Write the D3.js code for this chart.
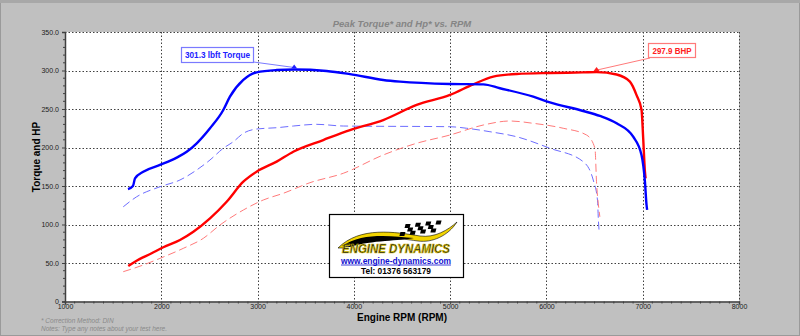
<!DOCTYPE html>
<html>
<head>
<meta charset="utf-8">
<script src="https://cdn.jsdelivr.net/npm/d3@7"></script>
<style>
  html, body { margin: 0; padding: 0; background: #c0c0c0; }
  svg { display: block; font-family: "Liberation Sans", Arial, sans-serif; }
</style>
</head>
<body>
<svg id="chart" width="800" height="336"></svg>
<script>
// Dyno run: engine speed (RPM) against torque (lbft) and power (BHP)
const torqueRpm = [1654, 1706, 1727, 1813, 1986, 2160, 2264, 2368, 2506, 2644, 2713, 2852, 2990, 3198, 3380, 3717, 3960, 4305, 4479, 4998, 5344, 5517, 5863, 6036, 6382, 6555, 6729, 6901, 6988, 7023, 7040, 7046];
const torqueVal = [146, 150, 160, 168.6, 177.3, 186.8, 194.5, 205.5, 225, 248.7, 266, 287.7, 297.6, 300.6, 301.3, 299.4, 295.3, 287.7, 285.5, 282.5, 282, 277, 266, 258.7, 247.4, 241, 231.4, 214, 190, 155.6, 125, 119];

const powerRpm = [1657, 1727, 1900, 2021, 2194, 2333, 2506, 2679, 2852, 2990, 3198, 3371, 3682, 3960, 4305, 4652, 4998, 5240, 5448, 5690, 6036, 6382, 6521, 6729, 6867, 6936, 6988, 7005, 7023, 7030];
const powerVal = [46, 51.7, 62.6, 70.4, 79.9, 90.6, 108, 129.6, 155.6, 168.6, 181.6, 194.5, 209.7, 222.7, 235.7, 255.2, 268.2, 282, 292, 295.5, 296.8, 297.5, 297.9, 294.8, 285.5, 268, 248.7, 212, 168.6, 160];

// Second (baseline) run, drawn dashed
const torque2Rpm = [1605, 1744, 1986, 2194, 2368, 2506, 2644, 2748, 2852, 2990, 3198, 3371, 3613, 3890, 4998, 5171, 5413, 5690, 6036, 6382, 6486, 6530, 6540, 6548];
const torque2Val = [123, 136, 149, 157.8, 170.8, 183.8, 199, 207.5, 218.4, 224, 225.7, 227.9, 230.1, 227.9, 227, 225, 220.5, 214, 199, 181.6, 157.8, 131.8, 105, 90];

const power2Rpm = [1605, 1813, 1986, 2228, 2436, 2610, 2852, 3059, 3267, 3544, 3890, 4305, 4652, 4998, 5344, 5621, 5863, 6174, 6417, 6504, 6521, 6545, 6555];
const power2Val = [38.7, 47.4, 56, 69, 82, 99.4, 118.8, 131.8, 140.5, 154.3, 166.5, 190.3, 205.5, 216.2, 229.2, 234.4, 231.4, 225, 216.2, 199, 153.5, 120, 110];

const xTicks = [1000, 2000, 3000, 4000, 5000, 6000, 7000, 8000];
const yTicks = [0, 50, 100, 150, 200, 250, 300, 350];

const peakTorque = { rpm: 3380, value: 301.3, label: "301.3 lbft Torque" };
const peakPower = { rpm: 6521, value: 297.9, label: "297.9 BHP" };

const svg = d3.select("#chart");
const W = 800, H = 336;

const x = d3.scaleLinear().domain([1000, 8000]).range([65, 739]);
const y = d3.scaleLinear().domain([0, 350]).range([301.5, 32]);

// Window background
svg.append("rect").attr("x", 0.5).attr("y", 0.5).attr("width", W - 1).attr("height", H - 1)
  .attr("fill", "#c0c0c0").attr("stroke", "#9a9a9a");
svg.append("rect").attr("x", 0).attr("y", 0).attr("width", W).attr("height", 3).attr("fill", "#a8a8a8");

// Plot area
svg.append("rect").attr("x", x(1000)).attr("y", y(350))
  .attr("width", x(8000) - x(1000)).attr("height", y(0) - y(350)).attr("fill", "#ffffff");

// Dotted grid
const grid = svg.append("g").attr("stroke", "#404040").attr("stroke-width", 1).attr("stroke-dasharray", "1.5,2");
grid.selectAll("line.v").data(xTicks.slice(1)).join("line")
  .attr("x1", d => Math.round(x(d)) + 0.5).attr("x2", d => Math.round(x(d)) + 0.5)
  .attr("y1", y(350)).attr("y2", y(0));
grid.selectAll("line.h").data(yTicks.slice(1)).join("line")
  .attr("x1", x(1000)).attr("x2", x(8000))
  .attr("y1", d => Math.round(y(d)) + 0.5).attr("y2", d => Math.round(y(d)) + 0.5);

// Axes
const xAxis = d3.axisBottom(x).tickValues(xTicks).tickFormat(d3.format("d")).tickSize(3);
const gx = svg.append("g").attr("transform", `translate(0,${y(0)})`).call(xAxis);
gx.select(".domain").attr("stroke", "#404040").attr("stroke-width", 1.5);
gx.selectAll(".tick line").attr("stroke", "#404040");
gx.selectAll(".tick text").attr("font-size", 7).attr("fill", "#202020").attr("dy", "0.2em")
  .attr("font-family", "'Liberation Sans', Arial, sans-serif");

const xMinor = d3.range(1100, 8000, 100).filter(v => v % 1000 !== 0);
svg.append("g").selectAll("line").data(xMinor).join("line")
  .attr("x1", d => x(d)).attr("x2", d => x(d)).attr("y1", y(0)).attr("y2", y(0) + 2)
  .attr("stroke", "#404040");

const yAxis = d3.axisLeft(y).tickValues(yTicks).tickFormat(d => d === 0 ? "0" : d3.format(".1f")(d)).tickSize(3);
const gy = svg.append("g").attr("transform", `translate(${x(1000)},0)`).call(yAxis);
gy.select(".domain").attr("stroke", "#404040").attr("stroke-width", 1.5);
gy.selectAll(".tick line").attr("stroke", "#404040");
gy.selectAll(".tick text").attr("font-size", 7).attr("fill", "#202020")
  .attr("font-family", "'Liberation Sans', Arial, sans-serif");

const yMinor = d3.range(10, 350, 10).filter(v => v % 50 !== 0);
svg.append("g").selectAll("line").data(yMinor).join("line")
  .attr("x1", x(1000) - 2).attr("x2", x(1000)).attr("y1", d => y(d)).attr("y2", d => y(d))
  .attr("stroke", "#404040");

// Curves
const line = d3.line().x(d => x(d[0])).y(d => y(d[1])).curve(d3.curveMonotoneX);
const zip = (a, b) => a.map((v, i) => [v, b[i]]);

const curves = [
  { rpm: torque2Rpm, val: torque2Val, color: "#6d6dff", width: 1, dash: "8,4" },
  { rpm: power2Rpm, val: power2Val, color: "#ff7a7a", width: 1, dash: "8,4" },
  { rpm: powerRpm, val: powerVal, color: "#ff0000", width: 2.4, dash: null },
  { rpm: torqueRpm, val: torqueVal, color: "#0000ff", width: 2.4, dash: null }
];
const plot = svg.append("g");
curves.forEach(c => {
  plot.append("path").datum(zip(c.rpm, c.val))
    .attr("d", line).attr("fill", "none")
    .attr("stroke", c.color).attr("stroke-width", c.width)
    .attr("stroke-dasharray", c.dash).attr("stroke-linejoin", "round");
});

// Peak callouts
function callout(peak, color, lineColor, box) {
  const px = x(peak.rpm), py = y(peak.value);
  const g = svg.append("g");
  g.append("line").attr("x1", box.ax).attr("y1", box.ay).attr("x2", px).attr("y2", py - 2)
    .attr("stroke", lineColor).attr("stroke-width", 1);
  g.append("path").attr("d", `M${px - 3},${py - 1} L${px + 3},${py - 1} L${px},${py - 5} Z`)
    .attr("fill", color);
  g.append("rect").attr("x", box.x).attr("y", box.y).attr("width", box.w).attr("height", box.h)
    .attr("fill", "#ffffff").attr("stroke", lineColor).attr("stroke-width", 1.2);
  g.append("text").attr("x", box.x + box.w / 2).attr("y", box.y + box.h / 2 + 3.2)
    .attr("text-anchor", "middle").attr("font-size", 8.5).attr("font-weight", "bold")
    .attr("textLength", box.tl).attr("lengthAdjust", "spacingAndGlyphs")
    .attr("fill", color).text(peak.label);
}
callout(peakTorque, "#2020ff", "#7a7aff", { x: 181.5, y: 47.5, w: 72, h: 15, ax: 253.5, ay: 62, tl: 65 });
callout(peakPower, "#ff2020", "#ff7a7a", { x: 648.5, y: 43.5, w: 47, h: 14, ax: 650, ay: 58, tl: 39 });

// Sponsor logo
const logo = svg.append("g");
logo.append("rect").attr("x", 329.5).attr("y", 214.5).attr("width", 134).attr("height", 63)
  .attr("fill", "#ffffff").attr("stroke", "#000000").attr("stroke-width", 1.2);
// yellow swoosh
logo.append("path")
  .attr("d", "M338,248 C360,226 395,232 420,236 C435,238 448,230 457,222 C448,236 432,243 418,241 C395,238 362,232 344,248 Z")
  .attr("fill", "#f2d400").attr("stroke", "#000").attr("stroke-width", 0.6);
// black swoosh body
logo.append("path")
  .attr("d", "M342,246 C362,232 392,236 414,238 C400,241 372,240 350,247 Z").attr("fill", "#000");
// checkered flag
const flag = logo.append("g");
for (let r = 0; r < 3; r++) {
  for (let c = 0; c < 7; c++) {
    if ((r + c) % 2 === 0) {
      flag.append("rect").attr("x", 404 + c * 5 - r * 1.5).attr("y", 224 + r * 4 - c * 0.6)
        .attr("width", 5).attr("height", 4).attr("fill", "#000")
        .attr("transform", "skewX(-15)").attr("transform-origin", "420 230");
    }
  }
}
logo.append("text").attr("x", 396).attr("y", 253).attr("text-anchor", "middle")
  .attr("font-size", 13).attr("font-weight", "bold").attr("font-style", "italic")
  .attr("textLength", 108).attr("lengthAdjust", "spacingAndGlyphs")
  .attr("fill", "#1a1a1a").attr("stroke", "#d8c000").attr("stroke-width", 0.7)
  .text("ENGINE DYNAMICS");
logo.append("text").attr("x", 396).attr("y", 263.5).attr("text-anchor", "middle")
  .attr("font-size", 8.5).attr("font-weight", "bold").attr("fill", "#1010d0")
  .attr("textLength", 110).attr("lengthAdjust", "spacingAndGlyphs")
  .text("www.engine-dynamics.com");
logo.append("line").attr("x1", 341).attr("x2", 451).attr("y1", 265).attr("y2", 265)
  .attr("stroke", "#1010d0").attr("stroke-width", 0.8);
logo.append("text").attr("x", 396).attr("y", 273.5).attr("text-anchor", "middle")
  .attr("font-size", 8.5).attr("font-weight", "bold").attr("fill", "#000")
  .attr("textLength", 70).attr("lengthAdjust", "spacingAndGlyphs")
  .text("Tel: 01376 563179");

// Titles and notes
svg.append("text").attr("x", 402).attr("y", 27).attr("text-anchor", "middle")
  .attr("font-size", 9.5).attr("font-weight", "bold").attr("font-style", "italic")
  .attr("fill", "#858585").text("Peak Torque* and Hp* vs. RPM");

svg.append("text").attr("transform", `translate(40,157) rotate(-90)`).attr("text-anchor", "middle")
  .attr("font-size", 10).attr("font-weight", "bold").attr("fill", "#000").text("Torque and HP");

svg.append("text").attr("x", 402).attr("y", 321).attr("text-anchor", "middle")
  .attr("font-size", 10).attr("font-weight", "bold").attr("fill", "#000").text("Engine RPM (RPM)");

svg.append("text").attr("x", 41).attr("y", 322.5).attr("font-size", 6.5).attr("font-style", "italic")
  .attr("fill", "#8a8a8a").text("* Correction Method: DIN");
svg.append("text").attr("x", 41).attr("y", 331).attr("font-size", 6.5).attr("font-style", "italic")
  .attr("fill", "#8a8a8a").text("Notes: Type any notes about your test here.");
</script>
</body>
</html>
